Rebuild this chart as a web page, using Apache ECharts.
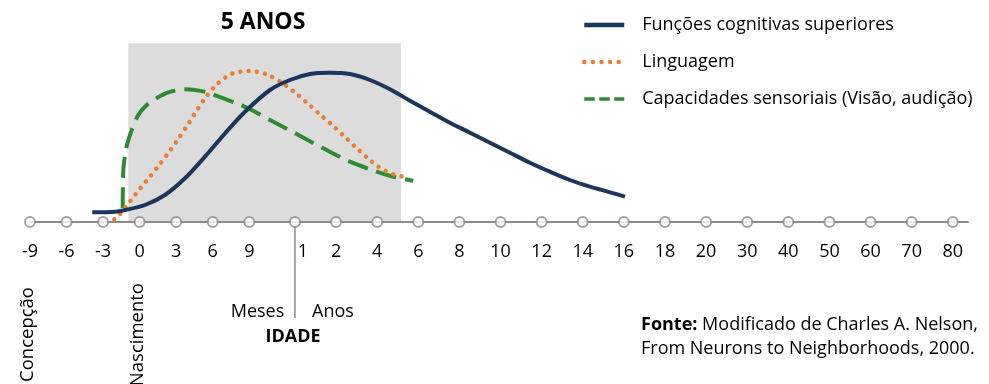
<!DOCTYPE html>
<html>
<head>
<meta charset="utf-8">
<script src="https://cdn.jsdelivr.net/npm/echarts@6/dist/echarts.min.js"></script>
<style>
html,body{margin:0;padding:0;background:#fff;}
#chart{width:989px;height:384px;}
</style>
</head>
<body>
<div id="chart"></div>
<script>
// Tick labels (months before/after birth, then years) and their positions on the schematic axis
const tickLabels = ['-9','-6','-3','0','3','6','9','1','2','4','6','8','10','12','14','16','18','20','30','40','50','60','70','80'];
const tickValues = [-9,-6,-3,0,3,6,9,12.75,16.125,19.5,22.875,26.25,29.625,33,36.375,39.75,43.125,46.5,49.875,53.25,56.625,60,63.375,66.75];

const seriesNames = ['Funções cognitivas superiores','Linguagem','Capacidades sensoriais (Visão, audição)'];

// Funções cognitivas superiores
const cognX = [-3.89,-2.02,-1.20,0.44,2.08,3.72,5.36,7.01,8.65,10.70,12.34,13.98,15.62,17.27,18.91,20.55,22.19,23.83,25.47,27.12,28.76,30.40,32.04,33.68,35.32,36.97,38.61,39.84];
const cognY = [9.7,10.3,12,17,27,43.7,65.3,88.7,110.3,132,142,148,149.3,148,142,132.7,121.3,110.3,99.3,89.3,79.3,69.3,59.3,50.3,42,35.3,29.7,25.3];

// Linguagem
const lingX = [-2.08,-1.61,-1.14,-0.30,0.60,1.48,2.33,3.15,3.94,4.68,5.50,6.43,7.58,8.98,10.35,11.60,12.73,13.79,14.83,15.90,16.94,17.95,18.99,19.56,20.16,20.82,21.51];
const lingY = [2.7,8,15,28.3,41.7,55,68.7,82.7,97,111.3,126,138.7,148.3,151,148,140,129.7,118.7,107.3,96,84,72.3,61,55.7,51.3,47.7,45.7];

// Capacidades sensoriais
const sensX = [-1.39,-1.38,-1.34,-1.20,-1.04,-0.65,-0.11,0.58,1.26,2.35,3.72,4.54,5.64,6.73,8.10,9.20,10.70,12.89,15.07,17.27,19.32,20.82,22.46];
const sensY = [14,32,52,67,77,92,107,117,123,129.7,132.7,132,129.3,124.3,118,112,102,88,73.7,60.3,51,45.3,41.3];

// Shaded "5 ANOS" window (axis units) and the months/years divider
const windowX = [-0.93, 21.45];
const windowY = [-71, 178.7];
const dividerX = 12.75;
const dividerY = [0, -96];

const FONT = 'Open Sans';
const zip = (xs, ys) => xs.map((x, i) => [x, ys[i]]);

const chart = echarts.init(document.getElementById('chart'), null, {renderer: 'canvas'});

const option = {
  animation: false,
  backgroundColor: '#ffffff',
  textStyle: {fontFamily: FONT},
  grid: {left: 30, right: 21, top: 42, bottom: 162, containLabel: false, outerBoundsMode: 'none'},
  xAxis: {
    type: 'value', min: -9, max: 68, z: 3,
    axisLine: {show: true, onZero: false, lineStyle: {color: '#8c8c8c', width: 2}},
    axisTick: {show: false},
    splitLine: {show: false},
    axisLabel: {
      customValues: tickValues,
      margin: 21,
      fontFamily: FONT, fontSize: 18, color: '#000',
      formatter: function (v) {
        let best = 0, d = Infinity;
        tickValues.forEach((t, i) => { if (Math.abs(t - v) < d) { d = Math.abs(t - v); best = i; } });
        return best === 7 ? '{s|' + tickLabels[best] + '}' : tickLabels[best];
      },
      rich: {s: {fontFamily: FONT, fontSize: 18, color: '#000', padding: [0, 0, 0, 16]}}
    }
  },
  yAxis: {type: 'value', min: 0, max: 180, show: false},
  legend: {
    orient: 'vertical', left: 577, top: 11,
    itemWidth: 40, itemHeight: 20, itemGap: 19,
    itemStyle: {opacity: 0, color: 'rgba(0,0,0,0)', borderColor: 'rgba(0,0,0,0)', borderWidth: 0},
    textStyle: {fontFamily: FONT, fontSize: 18, color: '#000', padding: [0, 0, 0, 13]},
    data: [
      {name: seriesNames[0], lineStyle: {width: 4.5}},
      {name: seriesNames[1], lineStyle: {type: [0.01, 8.6], cap: 'round', width: 4.5}},
      {name: seriesNames[2], lineStyle: {type: [10.5, 4.5], width: 3.5}}
    ],
    selectedMode: false
  },
  graphic: [
    {type: 'text', x: 263, y: 22, style: {text: '5 ANOS', font: 'bold 23px "Open Sans"', fill: '#000', align: 'center', verticalAlign: 'middle'}},
    {type: 'text', x: 257.5, y: 312, style: {text: 'Meses', font: '18px "Open Sans"', fill: '#000', align: 'center', verticalAlign: 'middle'}},
    {type: 'text', x: 333, y: 312, style: {text: 'Anos', font: '18px "Open Sans"', fill: '#000', align: 'center', verticalAlign: 'middle'}},
    {type: 'text', x: 293, y: 337, style: {text: 'IDADE', font: 'bold 18px "Open Sans"', fill: '#000', align: 'center', verticalAlign: 'middle'}},
    {type: 'text', x: 28, y: 382, rotation: Math.PI / 2, style: {text: 'Concepção', font: '18.5px "Open Sans"', fill: '#000', align: 'left', verticalAlign: 'middle'}},
    {type: 'text', x: 138, y: 283, rotation: Math.PI / 2, style: {text: 'Nascimento', font: '18.5px "Open Sans"', fill: '#000', align: 'right', verticalAlign: 'middle'}},
    {type: 'text', x: 641, y: 313, style: {
      text: '{b|Fonte:} Modificado de Charles A. Nelson,\nFrom Neurons to Neighborhoods, 2000.',
      font: '18px "Open Sans"', fill: '#000', align: 'left', verticalAlign: 'top', lineHeight: 24,
      rich: {b: {font: 'bold 18px "Open Sans"', fill: '#000', lineHeight: 24}}
    }}
  ],
  series: [
    {
      name: 'area', type: 'line', data: [], z: 1, silent: true, clip: false,
      markArea: {
        silent: true,
        itemStyle: {color: '#dcdcdc', opacity: 1},
        label: {show: false},
        data: [[{coord: [windowX[0], windowY[1]]}, {coord: [windowX[1], windowY[0]]}]]
      }
    },
    {
      name: 'divider', type: 'line', z: 2, silent: true, clip: false, symbol: 'none',
      lineStyle: {color: '#8c8c8c', width: 1.5},
      data: dividerY.map(y => [dividerX, y])
    },
    {
      name: 'ticks', type: 'scatter', z: 4, silent: true, clip: false,
      symbol: 'circle', symbolSize: 10,
      itemStyle: {color: '#ffffff', borderColor: '#8c8c8c', borderWidth: 2},
      data: tickValues.map(v => [v, 0])
    },
    {
      name: seriesNames[2], type: 'line', z: 5, symbol: 'none', smooth: 0.3, clip: false,
      lineStyle: {color: '#2e8b32', width: 4, type: [21, 9]},
      itemStyle: {color: '#2e8b32'},
      data: zip(sensX, sensY)
    },
    {
      name: seriesNames[1], type: 'line', z: 6, symbol: 'none', smooth: 0.3, clip: false,
      lineStyle: {color: '#ed7d31', width: 4.5, type: [0.01, 8.2], cap: 'round'},
      itemStyle: {color: '#ed7d31'},
      data: zip(lingX, lingY)
    },
    {
      name: seriesNames[0], type: 'line', z: 7, symbol: 'none', smooth: 0.3, clip: false,
      lineStyle: {color: '#1b365d', width: 4},
      itemStyle: {color: '#1b365d'},
      data: zip(cognX, cognY)
    }
  ]
};
chart.setOption(option);
</script>
</body>
</html>
